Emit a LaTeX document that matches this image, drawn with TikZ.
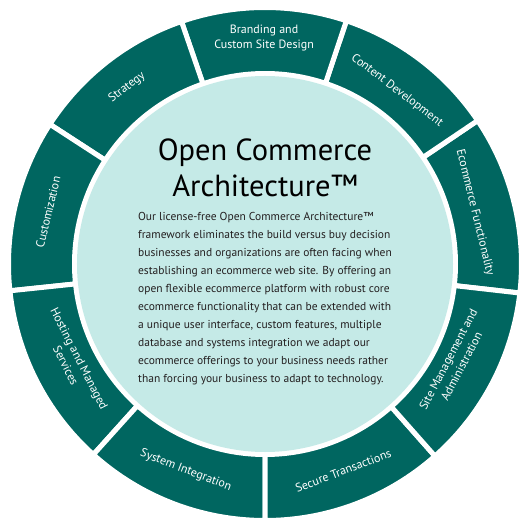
\documentclass[tikz,border=0pt]{standalone}
\usepackage{fontspec}
\setmainfont{PT Sans}
\definecolor{ocateal}{RGB}{0,102,96}
\definecolor{ocalight}{RGB}{197,234,231}
\definecolor{ocatext}{RGB}{35,31,32}
\usetikzlibrary{positioning}

\begin{document}
\begin{tikzpicture}[x=1bp,y=1bp,
  sector/.style={fill=ocateal,draw=white,line width=5bp},
  seglabel/.style={text=white,align=center,inner sep=0pt,
    font=\fontsize{12bp}{15bp}\selectfont}]
  \useasboundingbox (-265,-266) rectangle (265,264);
  % Ring segments
  \foreach \a/\b/\r/\txt [count=\i] in {
      -6.5/34/216/Ecommerce Functionality,
      34/71.5/218/Content Development,
      71.5/109/226/{Branding and\\Custom Site Design},
      109/147/224/Strategy,
      147/186/223/Customization,
      186/228/216/{Hosting and Managed\\Services},
      228/270/221/System Integration,
      270/311.5/221/Secure Transactions,
      311.5/353.5/214/{Site Management and\\Administration}}{
    \pgfmathsetmacro\mid{(\a+\b)/2}
    \pgfmathsetmacro\rot{\mid<180 ? \mid-90 : \mid+90}
    \draw[sector] (\a:190.5) arc[start angle=\a,end angle=\b,radius=190.5]
      -- (\b:256.5) arc[start angle=\b,end angle=\a,radius=256.5] -- cycle;
    \node[seglabel,rotate=\rot] (seg\i) at (\mid:\r) {\txt};
  }
  % Core
  \node[circle,fill=ocalight,minimum size=376bp,inner sep=0pt] (core) at (0,0) {};
  \node[font=\fontsize{30.5bp}{36bp}\selectfont,align=center,inner sep=0pt]
    (title) at (0,96.5) {Open Commerce\\Architecture™};
  \node[font=\fontsize{11.5bp}{18bp}\selectfont,align=left,inner sep=0pt,
    text=ocatext,below=15.5bp of title] (blurb)
    {Our license-free Open Commerce Architecture™\\
     framework eliminates the build versus buy decision\\
     businesses and organizations are often facing when\\
     establishing an ecommerce web site. By offering an\\
     open flexible ecommerce platform with robust core\\
     ecommerce functionality that can be extended with\\
     a unique user interface, custom features, multiple\\
     database and systems integration we adapt our\\
     ecommerce offerings to your business needs rather\\
     than forcing your business to adapt to technology.};
\end{tikzpicture}
\end{document}
